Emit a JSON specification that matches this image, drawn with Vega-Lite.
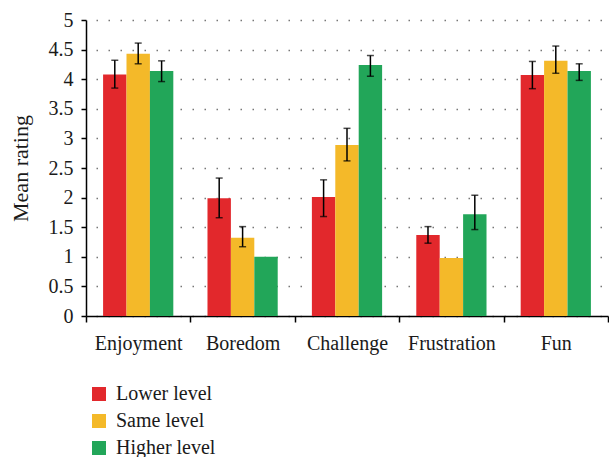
{
  "$schema": "https://vega.github.io/schema/vega-lite/v6.json",
  "width": 522,
  "height": 296,
  "autosize": "none",
  "padding": {"left": 86, "top": 20, "right": 1, "bottom": 141},
  "background": "white",
  "data": {
    "values": [
      {"item": "Enjoyment", "level": "Lower level", "mean": 4.08, "lo": 3.85, "hi": 4.32},
      {"item": "Enjoyment", "level": "Same level", "mean": 4.43, "lo": 4.26, "hi": 4.61},
      {"item": "Enjoyment", "level": "Higher level", "mean": 4.14, "lo": 3.96, "hi": 4.31},
      {"item": "Boredom", "level": "Lower level", "mean": 1.99, "lo": 1.66, "hi": 2.33},
      {"item": "Boredom", "level": "Same level", "mean": 1.32, "lo": 1.17, "hi": 1.51},
      {"item": "Boredom", "level": "Higher level", "mean": 1.0},
      {"item": "Challenge", "level": "Lower level", "mean": 2.01, "lo": 1.68, "hi": 2.30},
      {"item": "Challenge", "level": "Same level", "mean": 2.89, "lo": 2.62, "hi": 3.17},
      {"item": "Challenge", "level": "Higher level", "mean": 4.24, "lo": 4.05, "hi": 4.40},
      {"item": "Frustration", "level": "Lower level", "mean": 1.37, "lo": 1.23, "hi": 1.51},
      {"item": "Frustration", "level": "Same level", "mean": 0.98},
      {"item": "Frustration", "level": "Higher level", "mean": 1.72, "lo": 1.46, "hi": 2.04},
      {"item": "Fun", "level": "Lower level", "mean": 4.07, "lo": 3.84, "hi": 4.30},
      {"item": "Fun", "level": "Same level", "mean": 4.31, "lo": 4.10, "hi": 4.56},
      {"item": "Fun", "level": "Higher level", "mean": 4.14, "lo": 3.98, "hi": 4.26}
    ]
  },
  "config": {
    "font": "Liberation Serif",
    "view": {"stroke": null},
    "axis": {
      "labelFont": "Liberation Serif",
      "titleFont": "Liberation Serif",
      "labelColor": "#1a1a1a",
      "titleColor": "#1a1a1a",
      "domainColor": "black",
      "tickColor": "black",
      "domainWidth": 1.5,
      "tickWidth": 1.5
    },
    "axisY": {
      "titleFontSize": 22,
      "titleFontWeight": "normal",
      "titlePadding": 16,
      "labelFontSize": 20,
      "labelPadding": 8,
      "labelOverlap": false,
      "format": "~g",
      "tickSize": 5,
      "tickCount": 10,
      "grid": true,
      "gridColor": "#777777",
      "gridDash": [1.5, 10.5],
      "gridWidth": 1.5,
      "gridDashOffset": -10
    }
  },
  "encoding": {
    "x": {
      "field": "item",
      "type": "nominal",
      "sort": ["Enjoyment", "Boredom", "Challenge", "Frustration", "Fun"],
      "scale": {"paddingInner": 0, "paddingOuter": 0},
      "axis": {
        "title": null,
        "labelAngle": 0,
        "labelFontSize": 20,
        "labelPadding": 11,
        "tickSize": 6,
        "tickBand": "extent",
        "grid": false
      }
    },
    "xOffset": {
      "field": "level",
      "type": "nominal",
      "sort": ["Lower level", "Same level", "Higher level"],
      "scale": {"paddingInner": 0, "paddingOuter": 0.73}
    }
  },
  "layer": [
    {
      "mark": {"type": "bar"},
      "encoding": {
        "y": {
          "field": "mean",
          "type": "quantitative",
          "scale": {"domain": [0, 5], "nice": false},
          "title": "Mean rating"
        },
        "color": {
          "field": "level",
          "type": "nominal",
          "sort": ["Lower level", "Same level", "Higher level"],
          "scale": {
            "domain": ["Lower level", "Same level", "Higher level"],
            "range": ["#E2282C", "#F4B929", "#22A659"]
          },
          "legend": {
            "title": null,
            "orient": "none",
            "legendX": 3,
            "legendY": 364,
            "symbolType": "square",
            "symbolSize": 196,
            "symbolStrokeWidth": 0,
            "labelFontSize": 20,
            "labelFont": "Liberation Serif",
            "labelColor": "#1a1a1a",
            "rowPadding": 7,
            "labelOffset": 7
          }
        }
      }
    },
    {
      "mark": {"type": "rule", "color": "black", "strokeWidth": 1.5},
      "encoding": {
        "y": {"field": "lo", "type": "quantitative", "title": "Mean rating"},
        "y2": {"field": "hi"}
      }
    },
    {
      "mark": {"type": "tick", "color": "black", "thickness": 1.5, "size": 7, "orient": "horizontal"},
      "encoding": {"y": {"field": "lo", "type": "quantitative", "title": "Mean rating"}}
    },
    {
      "mark": {"type": "tick", "color": "black", "thickness": 1.5, "size": 7, "orient": "horizontal"},
      "encoding": {"y": {"field": "hi", "type": "quantitative", "title": "Mean rating"}}
    }
  ]
}
